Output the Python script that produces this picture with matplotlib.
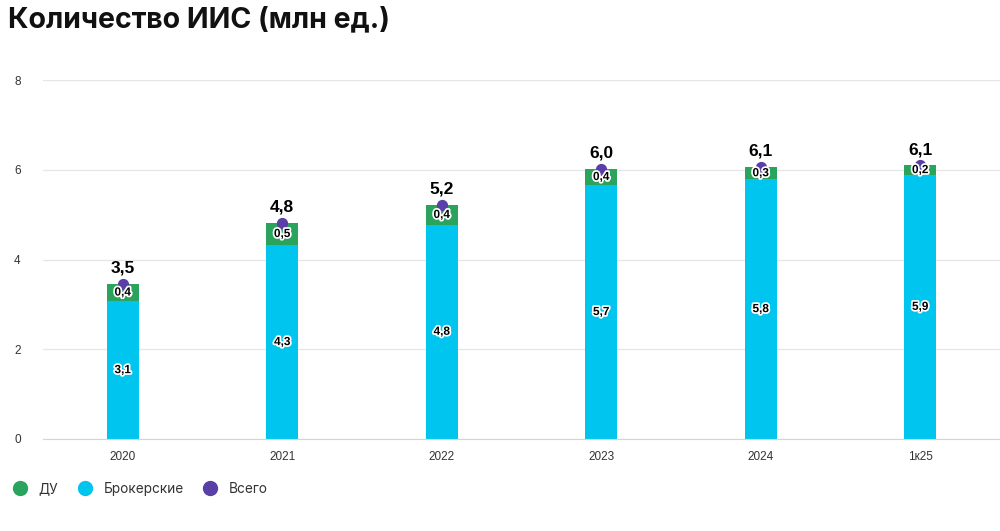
import matplotlib

matplotlib.use("Agg")
import matplotlib.pyplot as plt
import matplotlib.patheffects as pe
from matplotlib.lines import Line2D
import numpy as np

categories = ["2020", "2021", "2022", "2023", "2024", "1к25"]
brokerage = [3.07, 4.32, 4.78, 5.66, 5.79, 5.89]
trust = [0.39, 0.50, 0.43, 0.36, 0.27, 0.21]
total = [b + t for b, t in zip(brokerage, trust)]

GREEN = "#2aa35c"
BLUE = "#00c6ef"
PURPLE = "#5a3fa6"
LABEL_FONT = ["Liberation Sans", "DejaVu Sans"]


def fmt(v: float) -> str:
    return f"{v:.1f}".replace(".", ",")


plt.rcParams["font.family"] = ["Inter", "DejaVu Sans"]

fig = plt.figure(figsize=(10, 5.31), dpi=100)
ax = fig.add_axes([0.043, 0.1733, 0.957, 0.6757])

x = np.arange(len(categories))
ax.bar(x, brokerage, width=0.2, color=BLUE, zorder=2)
ax.bar(x, trust, width=0.2, bottom=brokerage, color=GREEN, zorder=2)
ax.scatter(x, total, s=50, color=PURPLE, zorder=4)

outline = [pe.withStroke(linewidth=2.5, foreground="white")]
for xi, b, t, tot in zip(x, brokerage, trust, total):
    ax.text(xi, b / 2, fmt(b), ha="center", va="center", fontsize=8.5,
            fontweight="bold", family=LABEL_FONT, color="black",
            path_effects=outline, zorder=5)
    ax.text(xi, b + t / 2, fmt(t), ha="center", va="center", fontsize=8.5,
            fontweight="bold", family=LABEL_FONT, color="black",
            path_effects=outline, zorder=5)
    ax.annotate(fmt(tot), (xi, tot), xytext=(0, 6), textcoords="offset points",
                ha="center", va="bottom", fontsize=12.5, fontweight="bold",
                family=LABEL_FONT, color="black", zorder=5)

ax.set_xlim(-0.5, len(categories) - 0.5)
ax.set_ylim(0, 8)
ax.set_yticks([0, 2, 4, 6, 8])
ax.set_xticks(x)
ax.set_xticklabels(categories, family=LABEL_FONT)
ax.set_yticklabels(["0", "2", "4", "6", "8"], family=LABEL_FONT)
ax.tick_params(axis="both", length=0, labelsize=8.5, colors="#333333")
ax.tick_params(axis="y", pad=16)
ax.tick_params(axis="x", pad=9)
ax.grid(axis="y", color="#e6e6e6", linewidth=1, zorder=0)
for side in ["top", "right", "left"]:
    ax.spines[side].set_visible(False)
ax.spines["bottom"].set_color("#ccd6eb")

fig.text(0.008, 0.962, "Количество ИИС (млн ед.)", fontsize=20.5, fontweight="bold",
         ha="left", va="center", color="#111111")

handles = [
    Line2D([], [], marker="o", linestyle="", markersize=10, color=GREEN, label="ДУ"),
    Line2D([], [], marker="o", linestyle="", markersize=10, color=BLUE, label="Брокерские"),
    Line2D([], [], marker="o", linestyle="", markersize=10, color=PURPLE, label="Всего"),
]
fig.legend(handles=handles, loc="center left", bbox_to_anchor=(0.0, 0.079), ncol=3,
           frameon=False, fontsize=9.8, handletextpad=0.75, columnspacing=1.35,
           handlelength=1.2, labelcolor="#333333")

fig.savefig("out.png", dpi=100)
